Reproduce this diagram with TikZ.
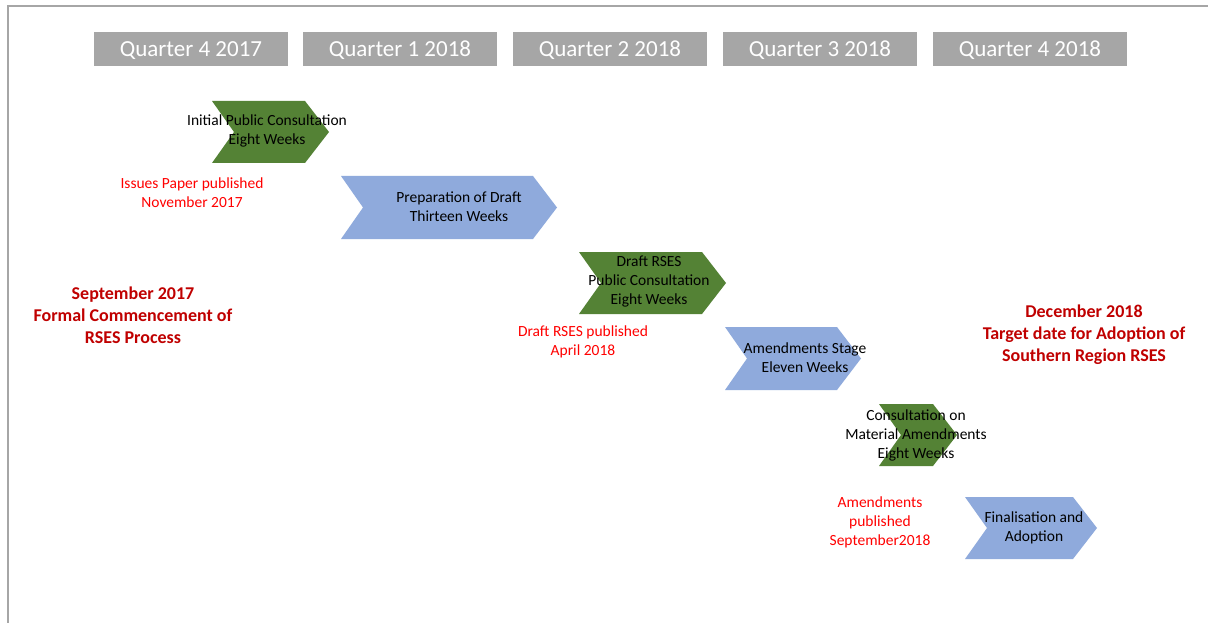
\documentclass[tikz,border=0pt]{standalone}
\usepackage{fontspec}
\setmainfont{Carlito}
\definecolor{qgray}{HTML}{A6A6A6}
\definecolor{chgreen}{HTML}{548235}
\definecolor{chblue}{HTML}{8FAADC}
\definecolor{darkred}{HTML}{C00000}
\definecolor{brightred}{HTML}{FF0000}
\newcommand\chevshape[5]{%
  \fill[#5] (#1,#2) -- ({#3-24},#2) -- (#3,{(#2+#4)/2}) -- ({#3-24},#4) -- (#1,#4) -- ({#1+22},{(#2+#4)/2}) -- cycle;}
\begin{document}
\begin{tikzpicture}[x=1pt,y=-1pt,
  qbox/.style={fill=qgray,text=white,minimum width=194pt,minimum height=34pt,inner sep=0pt,text height=15pt,text depth=0pt,font=\fontsize{23}{26}\selectfont},
  steptext/.style={align=center,inner sep=0pt,text=black,font=\fontsize{15.5}{19}\selectfont},
  redtext/.style={steptext,text=brightred},
  milestone/.style={align=center,inner sep=0pt,text=darkred,font=\bfseries\fontsize{18}{22}\selectfont}]
\useasboundingbox (0,0) rectangle (1208,623);
\fill[white] (0,0) rectangle (1208,623);
% frame
\draw[qgray,line width=2pt] (8,623) -- (8,6.5) -- (1208,6.5);
% quarter headers
\node[qbox] (q1) at (191,49.5) {Quarter 4 2017};
\node[qbox] (q2) at (400,49.5) {Quarter 1 2018};
\node[qbox] (q3) at (610,49.5) {Quarter 2 2018};
\node[qbox] (q4) at (820,49.5) {Quarter 3 2018};
\node[qbox] (q5) at (1030,49.5) {Quarter 4 2018};
% chevrons
\chevshape{212}{101}{329}{163}{chgreen}
\chevshape{341}{176}{557}{239}{chblue}
\chevshape{579}{252}{726}{314}{chgreen}
\chevshape{725}{327}{861}{390}{chblue}
\chevshape{879}{404}{957}{466}{chgreen}
\chevshape{965}{497}{1097}{559}{chblue}
% chevron texts
\node[steptext] (t1) at (267,130.5) {Initial Public Consultation\\Eight Weeks};
\node[steptext] (t2) at (459,206.5) {Preparation of Draft\\Thirteen Weeks};
\node[steptext] (t3) at (649,282) {Draft RSES\\Public Consultation\\Eight Weeks};
\node[steptext] (t4) at (805,358) {Amendments Stage\\Eleven Weeks};
\node[steptext] (t5) at (916,435) {Consultation on\\Material Amendments\\Eight Weeks};
\node[steptext] (t6) at (1034,528) {Finalisation and\\Adoption};
% red notes
\node[redtext] (r1) at (192,192.5) {Issues Paper published\\November 2017};
\node[redtext] (r2) at (583,341.5) {Draft RSES published\\April 2018};
\node[redtext] (r3) at (880,522.5) {Amendments\\published\\September2018};
% milestones
\node[milestone] (m1) at (133,315) {September 2017\\Formal Commencement of\\RSES Process};
\node[milestone] (m2) at (1084,334.5) {December 2018\\Target date for Adoption of\\Southern Region RSES};
\end{tikzpicture}
\end{document}
